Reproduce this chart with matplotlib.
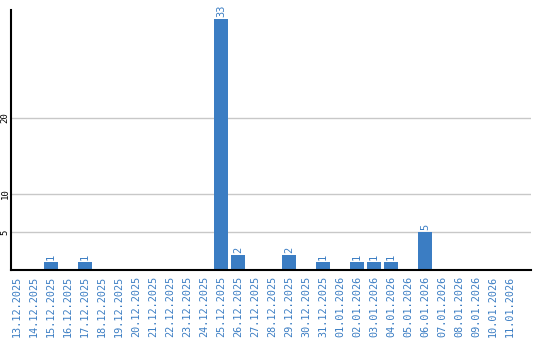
import matplotlib
matplotlib.use("Agg")
import matplotlib.pyplot as plt

dates = ["13.12.2025", "14.12.2025", "15.12.2025", "16.12.2025", "17.12.2025",
         "18.12.2025", "19.12.2025", "20.12.2025", "21.12.2025", "22.12.2025",
         "23.12.2025", "24.12.2025", "25.12.2025", "26.12.2025", "27.12.2025",
         "28.12.2025", "29.12.2025", "30.12.2025", "31.12.2025", "01.01.2026",
         "02.01.2026", "03.01.2026", "04.01.2026", "05.01.2026", "06.01.2026",
         "07.01.2026", "08.01.2026", "09.01.2026", "10.01.2026", "11.01.2026"]
values = [0, 0, 1, 0, 1, 0, 0, 0, 0, 0, 0, 0, 33, 2, 0, 0, 2, 0, 1, 0,
          1, 1, 1, 0, 5, 0, 0, 0, 0, 0]
yticks = [5, 10, 20]

blue = "#3b7dc3"

fig = plt.figure(figsize=(5.4, 3.4), dpi=100)
ax = fig.add_axes([11/540, 70/340, 520/540, 260/340])

x = list(range(len(dates)))
ax.bar(x, values, width=14/17, color=blue, zorder=3)
for xi, v in zip(x, values):
    if v > 0:
        ax.text(xi, v + 0.3, str(v), rotation=90, ha="center", va="bottom",
                color=blue, fontsize=7.5, family="DejaVu Sans Mono", zorder=4)

ax.set_xlim(-6/17, 514/17)
ax.set_ylim(0, 34.2)
ax.set_yticks(yticks)
ax.set_yticklabels([str(t) for t in yticks], rotation=90, va="center",
                   fontsize=6.5, family="DejaVu Sans Mono", color="black")
ax.yaxis.grid(True, color="#c8c8c8", linewidth=1, zorder=0)
ax.set_xticks(x)
ax.set_xticklabels(dates, rotation=90, ha="center", va="top", color=blue,
                   fontsize=7.3, family="DejaVu Sans Mono")
ax.tick_params(axis="x", length=0, pad=4)
ax.tick_params(axis="y", length=0, pad=1)
for s in ["top", "right"]:
    ax.spines[s].set_visible(False)
ax.spines["left"].set_linewidth(1.5)
ax.spines["bottom"].set_linewidth(1.5)
ax.spines["left"].set_zorder(5)
ax.spines["bottom"].set_zorder(5)

fig.savefig("out.png", dpi=100)
